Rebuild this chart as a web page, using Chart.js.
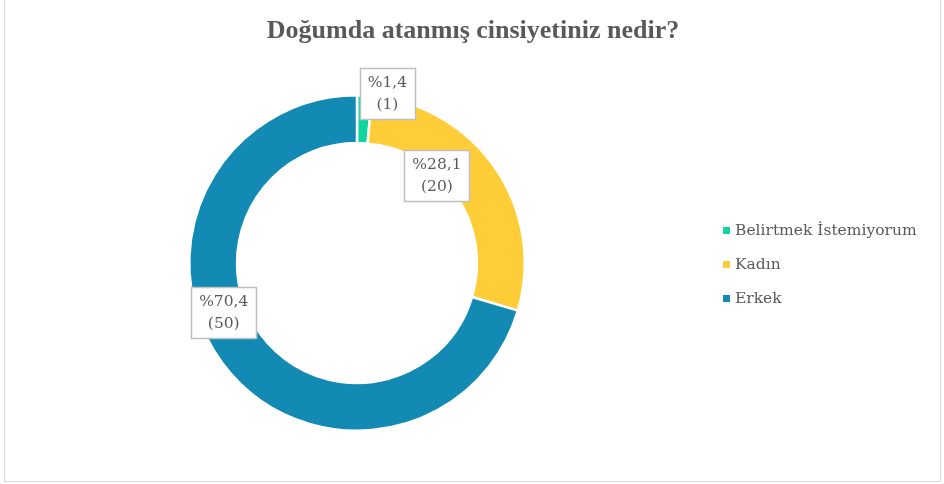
<!DOCTYPE html>
<html>
<head>
<meta charset="utf-8">
<script src="https://cdn.jsdelivr.net/npm/chart.js@4.4.1/dist/chart.umd.min.js"></script>
<style>
  html, body { margin: 0; padding: 0; background: #fff; }
  #wrap { width: 944px; height: 484px; }
</style>
</head>
<body>
<div id="wrap"><canvas id="chart" width="944" height="484"></canvas></div>
<script>
// veriler
const categories = ["Belirtmek İstemiyorum", "Kadın", "Erkek"];
const counts = [1, 20, 50];
const percentLabels = ["%1,4", "%28,1", "%70,4"];
const sliceColors = ["#0fd5a0", "#ffcd38", "#128ab3"];
const chartTitle = "Doğumda atanmış cinsiyetiniz nedir?";

// etiket kutularının dilim merkezine göre kayması
const labelOffsets = [[24, -26], [-39, -7], [-18, -37]];

const FONT = "'DejaVu Serif', 'Liberation Serif', serif";
const TITLE_FONT = "'Liberation Serif', serif";
const TEXT = "#595959";

const framePlugin = {
  id: "frame",
  beforeDraw(chart) {
    const ctx = chart.ctx;
    ctx.save();
    ctx.strokeStyle = "#d9d9d9";
    ctx.lineWidth = 1;
    ctx.strokeRect(4.5, -2, 936, 483.5);

    // başlık: tüm tuval genişliğine ortalanır
    ctx.font = "bold 20px " + TITLE_FONT;
    const w20 = ctx.measureText(chartTitle).width;
    const size = Math.min(26, 20 * 420 / w20);
    ctx.font = "bold " + size.toFixed(1) + "px " + TITLE_FONT;
    ctx.fillStyle = TEXT;
    ctx.textAlign = "center";
    ctx.textBaseline = "alphabetic";
    ctx.fillText(chartTitle, 473, 38);
    ctx.restore();
  }
};

const labelPlugin = {
  id: "boxLabels",
  afterDatasetsDraw(chart) {
    const ctx = chart.ctx;
    const meta = chart.getDatasetMeta(0);
    ctx.save();
    ctx.font = "15.5px " + FONT;
    ctx.textAlign = "center";
    ctx.textBaseline = "middle";
    meta.data.forEach((arc, i) => {
      const p = arc.tooltipPosition();
      const cx = p.x + labelOffsets[i][0];
      const cy = p.y + labelOffsets[i][1];
      const l1 = percentLabels[i];
      const l2 = "(" + counts[i] + ")";
      const w = Math.max(ctx.measureText(l1).width, ctx.measureText(l2).width) + 16;
      const h = 51;
      const x0 = Math.round(cx - w / 2) + 0.5;
      const y0 = Math.round(cy - h / 2) + 0.5;
      ctx.fillStyle = "#fff";
      ctx.fillRect(x0, y0, Math.round(w), h);
      ctx.strokeStyle = "#bfbfbf";
      ctx.lineWidth = 1.5;
      ctx.strokeRect(x0, y0, Math.round(w), h);
      ctx.fillStyle = TEXT;
      ctx.fillText(l1, cx, cy - 10);
      ctx.fillText(l2, cx, cy + 12);
    });
    ctx.restore();
  }
};

const legendPlugin = {
  id: "sideLegend",
  afterDraw(chart) {
    const ctx = chart.ctx;
    ctx.save();
    ctx.font = "15.5px " + FONT;
    ctx.textBaseline = "middle";
    ctx.textAlign = "left";
    categories.forEach((name, i) => {
      const y = 231 + i * 34;
      ctx.fillStyle = sliceColors[i];
      ctx.fillRect(723, y - 4, 7, 7);
      ctx.fillStyle = TEXT;
      ctx.fillText(name, 735, y);
    });
    ctx.restore();
  }
};

new Chart(document.getElementById("chart"), {
  type: "doughnut",
  data: {
    labels: categories,
    datasets: [{
      data: counts,
      backgroundColor: sliceColors,
      borderColor: "#ffffff",
      borderWidth: 2.5
    }]
  },
  options: {
    responsive: false,
    animation: false,
    cutout: "71.5%",
    layout: { padding: { top: 94, left: 188, right: 418, bottom: 52 } },
    plugins: {
      legend: { display: false },
      tooltip: { enabled: false },
      title: { display: false }
    }
  },
  plugins: [framePlugin, labelPlugin, legendPlugin]
});
</script>
</body>
</html>
